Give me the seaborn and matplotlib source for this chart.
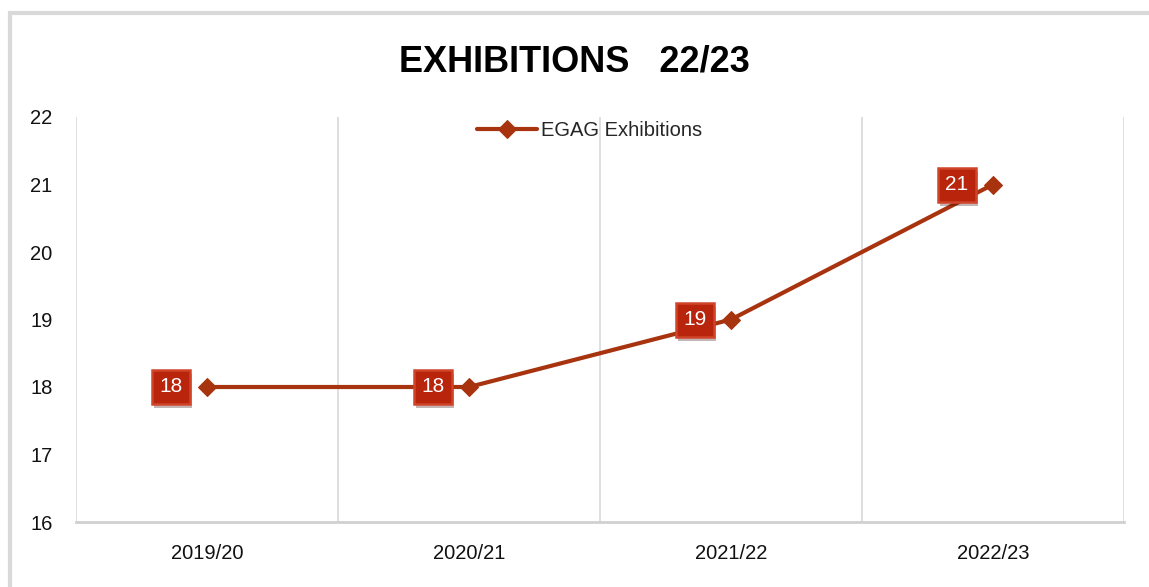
import matplotlib
matplotlib.use("Agg")

import pandas as pd
import matplotlib.pyplot as plt
import seaborn as sns
from matplotlib.patches import Rectangle
import matplotlib.patheffects as pe

# data
seasons = ["2019/20", "2020/21", "2021/22", "2022/23"]
exhibitions = [18, 18, 19, 21]
series_name = "EGAG Exhibitions"

df = pd.DataFrame({"season": seasons, "value": exhibitions})
df["pos"] = range(len(df))

sns.set_theme(style="white")
plt.rcParams['font.family'] = ['Liberation Sans', 'DejaVu Sans']

line_col = "#a8330f"
box_col = "#b8240c"

fig = plt.figure(figsize=(11.49, 5.87), dpi=100)
ax = fig.add_axes([76 / 1149, 1 - 522 / 587, (1124 - 76) / 1149, (522 - 117) / 587])

sns.lineplot(data=df, x="pos", y="value", ax=ax, color=line_col, linewidth=3,
             marker="D", markersize=9, markeredgecolor=line_col,
             label=series_name)

# data labels as red boxes to the left of each point
for p, v in zip(df["pos"], df["value"]):
    ax.annotate(str(v), (p, v), xytext=(-26, 0), textcoords="offset points",
                ha="center", va="center", color="white", fontsize=15,
                bbox=dict(boxstyle="square,pad=0.36", fc=box_col, ec="#d0442a", lw=1.8,
                          path_effects=[pe.withSimplePatchShadow(offset=(1.5, -3), alpha=0.3)]))

ax.set_xlim(-0.5, len(seasons) - 0.5)
ax.set_ylim(16, 22)
ax.set_yticks(range(16, 23))
ax.set_xticks(range(len(seasons)))
ax.set_xticklabels(seasons)
ax.tick_params(axis="x", length=0, pad=16, labelsize=14.5)
ax.tick_params(axis="y", length=0, pad=17, labelsize=14.5)
for lab in ax.get_xticklabels() + ax.get_yticklabels():
    lab.set_color("#111111")
ax.set_xlabel("")
ax.set_ylabel("")

# vertical separators between categories
for xb in [-0.5, 0.5, 1.5, 2.5, 3.5]:
    ax.axvline(xb, color="#d9d9d9", lw=1.2, zorder=0)

for s in ["top", "right", "left"]:
    ax.spines[s].set_visible(False)
ax.spines["bottom"].set_color("#d0d0d0")
ax.spines["bottom"].set_linewidth(2)

ax.legend(loc="upper center", bbox_to_anchor=(0.49, 1.035), frameon=False,
          fontsize=14.5, handlelength=3, handletextpad=0.2)

fig.text(0.5, 1 - 62 / 587, "EXHIBITIONS   22/23", ha="center", va="center",
         fontsize=26, fontweight="bold", color="black")

# outer chart border
fig.patches.append(Rectangle((10 / 1149, -0.1), 1.2, 1 - 13 / 587 + 0.1,
                             transform=fig.transFigure, fill=False,
                             ec="#d9d9d9", lw=3, zorder=0))

fig.savefig("out.png", dpi=100)
